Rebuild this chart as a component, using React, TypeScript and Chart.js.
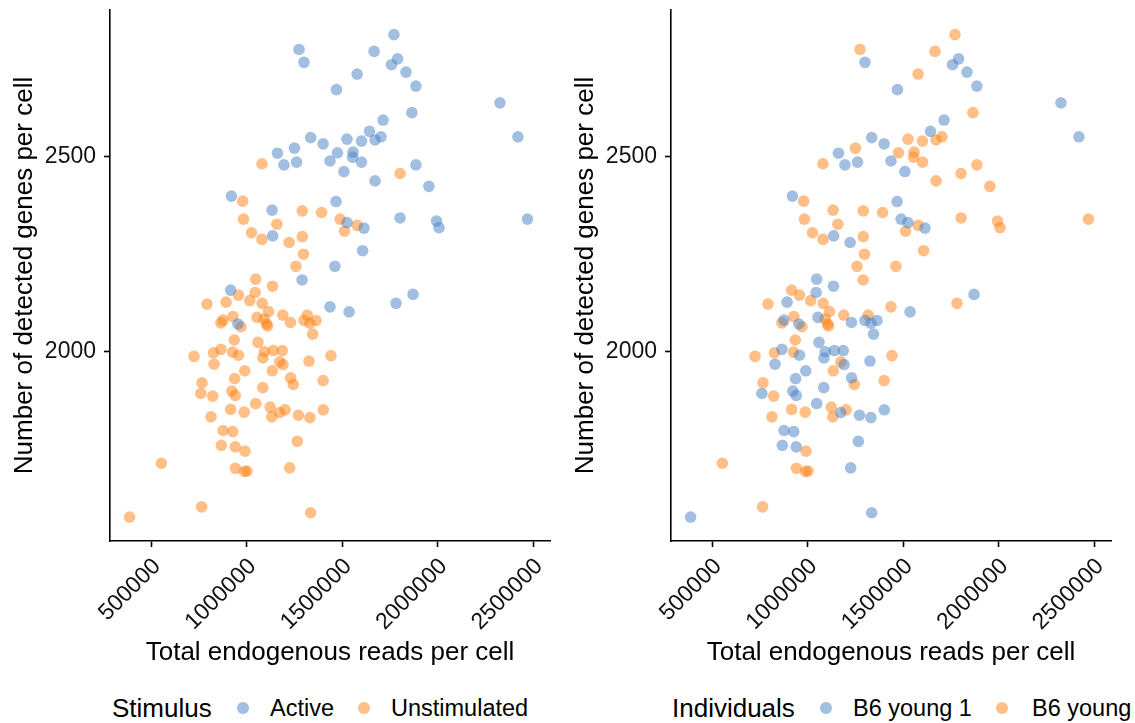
import React, { useEffect, useRef } from "react";
import { Chart, registerables } from "chart.js";

Chart.register(...registerables);

// ---- data ----
const readsPerCell = [
  1772000, 1275000, 1301000, 1668000, 1791000, 1759000, 1835000, 1579000, 1887000, 1471000,
  2327000, 1866000, 1715000, 2421000, 1644000, 1704000, 1673000, 1602000, 1526000, 1336000,
  1401000, 1251000, 1162000, 1476000, 1558000, 1555000, 1602000, 1437000, 1196000, 1262000,
  1081000, 1510000, 1673000, 1804000, 1887000, 1955000, 921000, 980000, 1469000, 1490000,
  1526000, 1579000, 1513000, 1615000, 1804000, 1995000, 2008000, 2471000, 1608000, 1463000,
  1872000, 1783000, 1437000, 1537000, 1442000, 1134000, 1292000, 1393000, 984000, 1159000,
  1026000, 1081000, 1137000, 1223000, 1292000, 1298000, 1259000, 1291000, 1048000, 1136000,
  917000, 958000, 1045000, 893000, 1017000, 1082000, 793000, 1115000, 929000, 877000,
  866000, 955000, 971000, 1055000, 1092000, 1105000, 1110000, 1190000, 1230000, 1318000,
  1301000, 1332000, 1364000, 1346000, 936000, 1060000, 866000, 827000, 927000, 958000,
  725000, 1093000, 1140000, 1187000, 1086000, 1174000, 1191000, 1327000, 830000, 991000,
  1135000, 1231000, 1245000, 767000, 938000, 761000, 823000, 923000, 941000, 1085000,
  1401000, 1048000, 917000, 988000, 1124000, 1132000, 1174000, 1202000, 1272000, 1332000,
  1402000, 814000, 877000, 928000, 1266000, 868000, 941000, 992000, 554000, 942000,
  990000, 1003000, 1226000, 765000, 388000, 1336000,
];

const genesPerCell = [
  2813, 2775, 2742, 2770, 2751, 2736, 2717, 2712, 2681, 2672,
  2638, 2613, 2594, 2551, 2565, 2551, 2543, 2540, 2545, 2549,
  2533, 2522, 2509, 2510, 2512, 2499, 2486, 2489, 2479, 2486,
  2482, 2462, 2438, 2457, 2479, 2424, 2399, 2386, 2385, 2340,
  2331, 2324, 2309, 2317, 2343, 2335, 2318, 2340, 2259, 2219,
  2147, 2124, 2115, 2102, 1990, 2363, 2361, 2357, 2340, 2327,
  2305, 2288, 2297, 2280, 2295, 2250, 2219, 2184, 2186, 2168,
  2158, 2145, 2152, 2127, 2131, 2124, 2122, 2103, 2090, 2081,
  2074, 2071, 2064, 2088, 2084, 2071, 2066, 2094, 2075, 2094,
  2080, 2073, 2080, 2045, 2030, 2024, 2006, 1997, 1999, 1991,
  1988, 2000, 2003, 2003, 1984, 1974, 1967, 1976, 1968, 1951,
  1951, 1933, 1916, 1920, 1931, 1893, 1886, 1899, 1888, 1908,
  1926, 1867, 1852, 1845, 1858, 1833, 1844, 1851, 1837, 1831,
  1851, 1833, 1798, 1795, 1770, 1760, 1756, 1745, 1714, 1701,
  1693, 1694, 1702, 1602, 1576, 1587,
];

// A = Active, U = Unstimulated
const stimulusCode = [
  "A","A","A","A","A","A","A","A","A","A",
  "A","A","A","A","A","A","A","A","A","A",
  "A","A","A","A","A","A","A","A","A","A",
  "U","A","A","U","A","A","A","U","A","U",
  "A","U","U","A","A","A","A","A","A","A",
  "A","A","A","A","U","A","U","U","U","U",
  "U","U","A","U","U","U","U","A","U","U",
  "A","U","U","U","U","U","U","U","U","U",
  "U","A","U","U","U","U","U","U","U","U",
  "U","U","U","U","U","U","U","U","U","U",
  "U","U","U","U","U","U","U","U","U","U",
  "U","U","U","U","U","U","U","U","U","U",
  "U","U","U","U","U","U","U","U","U","U",
  "U","U","U","U","U","U","U","U","U","U",
  "U","U","U","U","U","U",
];

// 1 = B6 young 1, 2 = B6 young 2
const individualCode = [
  2,2,1,2,1,1,1,2,1,1,
  1,2,1,1,1,2,2,2,2,1,
  1,2,1,2,2,2,2,1,1,1,
  2,1,2,2,2,2,1,2,1,1,
  1,2,2,1,2,2,2,2,2,2,
  1,2,2,1,2,2,2,2,2,2,
  2,2,1,1,2,2,2,2,1,1,
  2,2,1,1,2,2,2,2,2,1,
  2,1,2,1,2,2,2,2,1,2,
  1,1,1,1,2,1,1,2,2,1,
  2,1,1,1,1,2,1,1,1,1,
  2,1,2,2,1,1,2,1,1,1,
  2,1,2,2,2,2,1,2,1,1,
  1,2,1,1,1,1,1,2,2,2,
  2,2,1,2,1,1,
];

const stimulusLevels = ["Active", "Unstimulated"];
const stimulusKeys = ["A", "U"];
const individualLevels = ["B6 young 1", "B6 young 2"];
const individualKeys = [1, 2];

const xTicks = [500000, 1000000, 1500000, 2000000, 2500000];
const yTicks = [2000, 2500];

const X_MIN = 285300;
const X_MAX = 2589000;
const Y_MIN = 1514.6;
const Y_MAX = 2876.2;

const FONT = "'Liberation Sans', Arial, Helvetica, sans-serif";
const BLUE = "rgba(70,128,195,0.5)";
const ORANGE = "rgba(255,127,14,0.5)";
const COLORS = [BLUE, ORANGE];

const CANVAS_H = 680;
const X_AXIS_H = 139;
const Y_AXIS_W = 110;

function buildDatasets(codes: (string | number)[], keys: (string | number)[], labels: string[]) {
  return keys.map((k, i) => ({
    label: labels[i],
    data: readsPerCell
      .map((x, j) => ({ x, y: genesPerCell[j], c: codes[j] }))
      .filter((p) => p.c === k)
      .map((p) => ({ x: p.x, y: p.y })),
    backgroundColor: COLORS[i],
    borderColor: "rgba(0,0,0,0)",
    borderWidth: 0,
    pointRadius: 5.8,
    pointHoverRadius: 5.8,
    pointBorderWidth: 0,
  }));
}

function makeConfig(datasets: any[], rightPad: number): any {
  return {
    type: "scatter",
    data: { datasets },
    options: {
      responsive: false,
      animation: false,
      devicePixelRatio: 1,
      events: [],
      layout: { padding: { left: 0, top: 10, right: rightPad, bottom: 0 } },
      plugins: { legend: { display: false }, tooltip: { enabled: false } },
      scales: {
        x: {
          type: "linear",
          min: X_MIN,
          max: X_MAX,
          afterBuildTicks: (s: any) => {
            s.ticks = xTicks.map((v) => ({ value: v }));
          },
          afterFit: (s: any) => {
            s.height = X_AXIS_H;
            s.paddingLeft = 0;
            s.paddingRight = 0;
          },
          grid: {
            display: true,
            drawOnChartArea: false,
            drawTicks: true,
            tickLength: 6,
            tickWidth: 1.6,
            tickColor: "#000",
          },
          border: { display: true, color: "#000", width: 1.6 },
          ticks: {
            autoSkip: false,
            maxRotation: 45,
            minRotation: 45,
            padding: 6,
            labelOffset: 6,
            color: "#111",
            font: { family: FONT, size: 23 },
            callback: (v: any) => String(v),
          },
          title: {
            display: true,
            text: "Total endogenous reads per cell",
            color: "#000",
            font: { family: FONT, size: 26 },
            padding: { top: 0, bottom: 12 },
          },
        },
        y: {
          type: "linear",
          min: Y_MIN,
          max: Y_MAX,
          afterBuildTicks: (s: any) => {
            s.ticks = yTicks.map((v) => ({ value: v }));
          },
          afterFit: (s: any) => {
            s.width = Y_AXIS_W;
            s.paddingTop = 0;
            s.paddingBottom = 0;
          },
          grid: {
            display: true,
            drawOnChartArea: false,
            drawTicks: true,
            tickLength: 6,
            tickWidth: 1.6,
            tickColor: "#000",
          },
          border: { display: true, color: "#000", width: 1.6 },
          ticks: {
            padding: 8,
            color: "#111",
            font: { family: FONT, size: 23 },
            callback: (v: any) => String(v),
          },
          title: {
            display: true,
            text: "Number of detected genes per cell",
            color: "#000",
            font: { family: FONT, size: 26 },
            padding: { top: 9, bottom: 0 },
          },
        },
      },
    },
  };
}

function Panel({ left, width, datasets, rightPad }: { left: number; width: number; datasets: any[]; rightPad: number }) {
  const ref = useRef<HTMLCanvasElement | null>(null);
  useEffect(() => {
    if (!ref.current) return;
    const chart = new Chart(ref.current, makeConfig(datasets, rightPad));
    return () => chart.destroy();
  }, []);
  return (
    <div style={{ position: "absolute", left, top: 0, width, height: CANVAS_H }}>
      <canvas ref={ref} width={width} height={CANVAS_H} style={{ width, height: CANVAS_H, display: "block" }} />
    </div>
  );
}

type LegendItem = { kind: "title" | "dot" | "label"; x: number; text?: string; color?: string };

function Legend({ items }: { items: LegendItem[] }) {
  return (
    <>
      {items.map((it, i) => {
        if (it.kind === "dot") {
          return (
            <div
              key={i}
              style={{
                position: "absolute",
                left: it.x - 5.8,
                top: 708 - 5.8,
                width: 11.6,
                height: 11.6,
                borderRadius: "50%",
                background: it.color,
              }}
            />
          );
        }
        return (
          <div
            key={i}
            style={{
              position: "absolute",
              left: it.x,
              top: 693,
              height: 30,
              lineHeight: "30px",
              whiteSpace: "nowrap",
              fontFamily: FONT,
              fontSize: it.kind === "title" ? 26 : 23.5,
              color: "#000",
            }}
          >
            {it.text}
          </div>
        );
      })}
    </>
  );
}

export default function App() {
  const leftSets = buildDatasets(stimulusCode, stimulusKeys, stimulusLevels);
  const rightSets = buildDatasets(individualCode, individualKeys, individualLevels);
  const leftLegend: LegendItem[] = [
    { kind: "title", x: 112, text: "Stimulus" },
    { kind: "dot", x: 243, color: BLUE },
    { kind: "label", x: 270, text: stimulusLevels[0] },
    { kind: "dot", x: 364, color: ORANGE },
    { kind: "label", x: 391, text: stimulusLevels[1] },
  ];
  const rightLegend: LegendItem[] = [
    { kind: "title", x: 672, text: "Individuals" },
    { kind: "dot", x: 826, color: BLUE },
    { kind: "label", x: 853, text: individualLevels[0] },
    { kind: "dot", x: 1002, color: ORANGE },
    { kind: "label", x: 1032, text: individualLevels[1] },
  ];
  return (
    <div
      style={{
        position: "fixed",
        left: 0,
        top: 0,
        width: 1135,
        height: 723,
        overflow: "hidden",
        background: "#fff",
      }}
    >
      <Panel left={0} width={561} datasets={leftSets} rightPad={11} />
      <Panel left={561} width={574} datasets={rightSets} rightPad={24} />
      <Legend items={leftLegend} />
      <Legend items={rightLegend} />
    </div>
  );
}
